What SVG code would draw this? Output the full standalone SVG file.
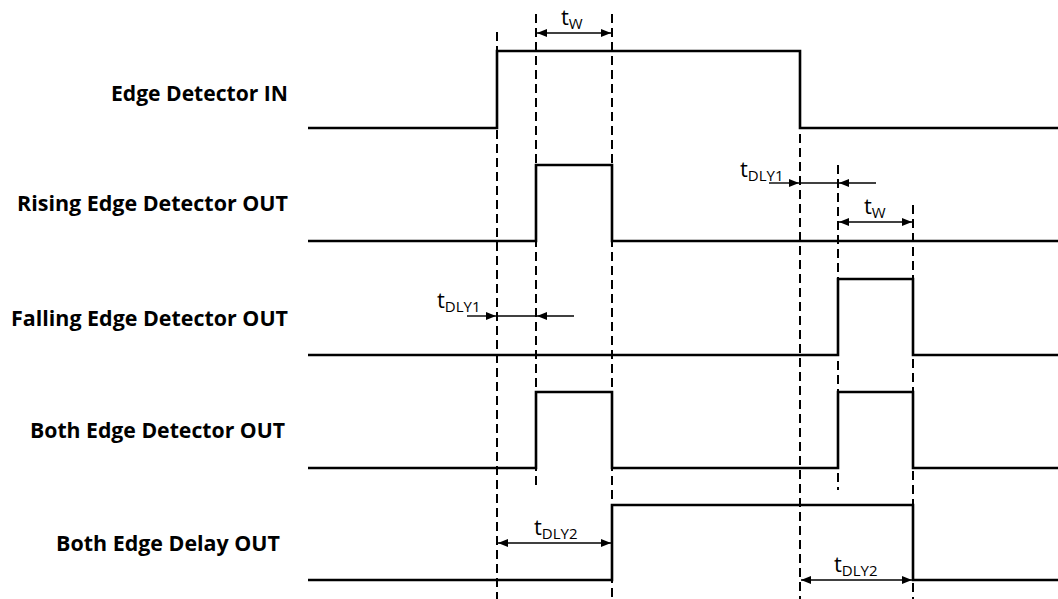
<svg xmlns="http://www.w3.org/2000/svg" width="1058" height="599" viewBox="0 0 1058 599">
<style>
.sig{fill:none;stroke:#000;stroke-width:2.6;stroke-linejoin:miter}
.dash{fill:none;stroke:#000;stroke-width:2;stroke-dasharray:9,5}
.dim{fill:none;stroke:#000;stroke-width:1.4}
.lbl{font-family:"Open Sans","Liberation Sans",sans-serif;font-weight:bold;font-size:21px;fill:#000;text-anchor:end}
.t{font-family:"Open Sans","Liberation Sans",sans-serif;font-size:22px;fill:#000}
.s{font-size:15px}
</style>
<defs>
<marker id="ah" viewBox="0 0 10 8" refX="10" refY="4" markerWidth="10" markerHeight="8" markerUnits="userSpaceOnUse" orient="auto-start-reverse">
<path d="M0,0 L10,4 L0,8 Z" fill="#000"/>
</marker>
</defs>
<rect width="1058" height="599" fill="#fff"/>

<g id="labels">
<g id="lbl-in"><text class="lbl" x="288" y="101" textLength="177" lengthAdjust="spacingAndGlyphs">Edge Detector IN</text></g>
<g id="lbl-rise"><text class="lbl" x="288" y="211" textLength="271" lengthAdjust="spacingAndGlyphs">Rising Edge Detector OUT</text></g>
<g id="lbl-fall"><text class="lbl" x="288" y="326" textLength="277" lengthAdjust="spacingAndGlyphs">Falling Edge Detector OUT</text></g>
<g id="lbl-both"><text class="lbl" x="285" y="438" textLength="255" lengthAdjust="spacingAndGlyphs">Both Edge Detector OUT</text></g>
<g id="lbl-delay"><text class="lbl" x="280" y="551" textLength="224" lengthAdjust="spacingAndGlyphs">Both Edge Delay OUT</text></g>
</g>

<g id="guides">
<line class="dash" x1="497" y1="32" x2="497" y2="599"/>
<line class="dash" x1="536" y1="14" x2="536" y2="490"/>
<line class="dash" x1="612" y1="14" x2="612" y2="599"/>
<line class="dash" x1="800" y1="50" x2="800" y2="599"/>
<line class="dash" x1="838" y1="165" x2="838" y2="490"/>
<line class="dash" x1="913" y1="205" x2="913" y2="599"/>
</g>

<g id="signals">
<g id="sig-in"><polyline class="sig" points="308,128 497,128 497,51 800,51 800,128 1058,128"/></g>
<g id="sig-rise"><polyline class="sig" points="308,241 536,241 536,165 612,165 612,241 1058,241"/></g>
<g id="sig-fall"><polyline class="sig" points="308,355 838,355 838,279 913,279 913,355 1058,355"/></g>
<g id="sig-both"><polyline class="sig" points="308,468 536,468 536,392 612,392 612,468 838,468 838,392 913,392 913,468 1058,468"/></g>
<g id="sig-delay"><polyline class="sig" points="308,580 612,580 612,505 913,505 913,580 1058,580"/></g>
</g>

<g id="connectors">
<line class="dim" x1="537" y1="33" x2="611" y2="33" marker-start="url(#ah)" marker-end="url(#ah)"/>
<line class="dim" x1="769" y1="183" x2="799" y2="183" marker-end="url(#ah)"/>
<line class="dim" x1="799" y1="183" x2="838" y2="183"/>
<line class="dim" x1="876" y1="183" x2="839" y2="183" marker-end="url(#ah)"/>
<line class="dim" x1="839" y1="222" x2="912" y2="222" marker-start="url(#ah)" marker-end="url(#ah)"/>
<line class="dim" x1="467" y1="316" x2="496" y2="316" marker-end="url(#ah)"/>
<line class="dim" x1="496" y1="316" x2="536" y2="316"/>
<line class="dim" x1="574" y1="316" x2="537" y2="316" marker-end="url(#ah)"/>
<line class="dim" x1="498" y1="543" x2="611" y2="543" marker-start="url(#ah)" marker-end="url(#ah)"/>
<line class="dim" x1="801" y1="580" x2="912" y2="580" marker-start="url(#ah)" marker-end="url(#ah)"/>
</g>

<g id="annotations">
<text class="t" x="561" y="25">t<tspan class="s" dy="4">W</tspan></text>
<text class="t" x="740" y="177">t<tspan class="s" dy="4">DLY1</tspan></text>
<text class="t" x="864" y="214">t<tspan class="s" dy="4">W</tspan></text>
<text class="t" x="437" y="308">t<tspan class="s" dy="4">DLY1</tspan></text>
<text class="t" x="534" y="535">t<tspan class="s" dy="4">DLY2</tspan></text>
<text class="t" x="834" y="572">t<tspan class="s" dy="4">DLY2</tspan></text>
</g>
</svg>
